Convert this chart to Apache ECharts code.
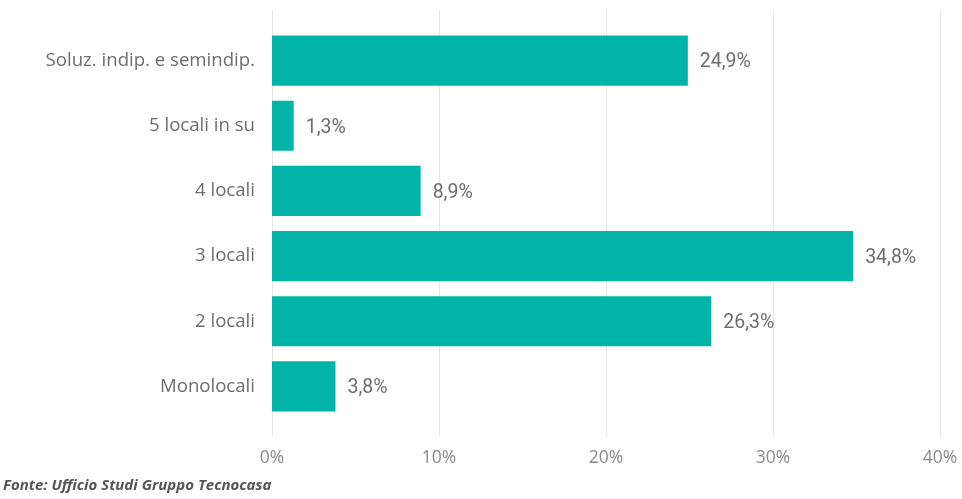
<!DOCTYPE html>
<html><head><meta charset="utf-8">
<script src="https://cdn.jsdelivr.net/npm/echarts@6/dist/echarts.min.js"></script>
<style>html,body{margin:0;padding:0;background:#fff}#c{width:962px;height:499px}</style>
</head><body><div id="c"></div>
<script>
const categories = ["Monolocali","2 locali","3 locali","4 locali","5 locali in su","Soluz. indip. e semindip."];
const values = [3.8, 26.3, 34.8, 8.9, 1.3, 24.9];
const xTicks = [0, 10, 20, 30, 40];
const source = "Fonte: Ufficio Studi Gruppo Tecnocasa";

const chart = echarts.init(document.getElementById('c'));
chart.setOption({
  animation: false,
  grid: [
    {left: 272, right: 22, top: 10, bottom: 62},
    {left: 272, right: 22, top: 28, bottom: 80}
  ],
  xAxis: [
    {gridIndex: 0, type: 'value', min: xTicks[0], max: xTicks[xTicks.length-1], interval: 10,
     axisLine: {show: false}, axisTick: {show: false},
     splitLine: {show: true, lineStyle: {color: '#e6e6e6', width: 1}},
     axisLabel: {formatter: v => v + '%', color: '#8a8a8a', fontSize: 17.5, margin: 12,
       fontFamily: '"Open Sans", "Noto Sans", sans-serif'}},
    {gridIndex: 1, type: 'value', min: 0, max: 40, show: false}
  ],
  yAxis: [
    {gridIndex: 0, type: 'value', show: false, min: 0, max: 1},
    {gridIndex: 1, type: 'category', data: categories,
     axisLine: {show: false}, axisTick: {show: false},
     axisLabel: {color: '#6e6e6e', fontSize: 18.6, margin: 17,
       fontFamily: '"Open Sans", "Noto Sans", sans-serif'}}
  ],
  series: [{
    type: 'bar', xAxisIndex: 1, yAxisIndex: 1, data: values,
    barCategoryGap: '23%',
    itemStyle: {color: '#02b4a7'},
    label: {show: true, position: 'right', distance: 12, color: '#6e6e6e', fontSize: 19.5,
      offset: [0, 2],
      fontFamily: '"Roboto", "Noto Sans", sans-serif',
      formatter: p => p.value.toFixed(1).replace('.', ',') + '%'}
  }],
  graphic: [{
    type: 'text', left: 3, top: 478,
    style: {text: source, fill: '#555', fontSize: 15, fontWeight: 'bold', fontStyle: 'italic',
      fontFamily: '"Open Sans", "Noto Sans", sans-serif'}
  }]
});
</script></body></html>
